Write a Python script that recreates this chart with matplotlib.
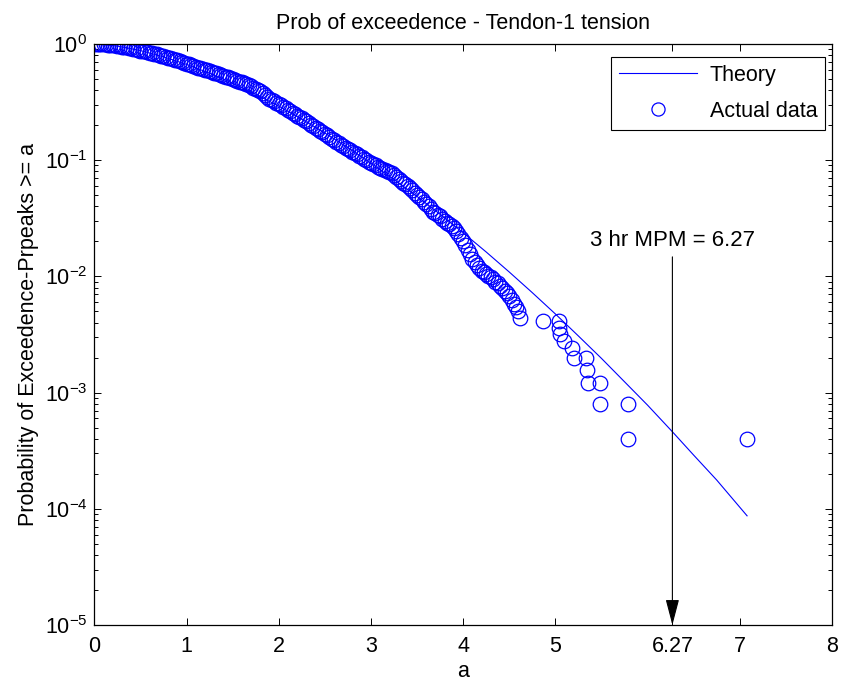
import matplotlib
matplotlib.use('Agg')
import matplotlib.pyplot as plt

plt.rcParams['font.family'] = ['Liberation Sans', 'DejaVu Sans']
plt.rcParams['mathtext.fontset'] = 'custom'
plt.rcParams['mathtext.rm'] = 'Liberation Sans'
plt.rcParams['mathtext.it'] = 'Liberation Sans:italic'

# peaks data (a, prob of exceedence)
data_a = [0.000, 0.025, 0.050, 0.075, 0.100, 0.125, 0.150, 0.175, 0.200, 0.225,
          0.250, 0.275, 0.300, 0.325, 0.350, 0.375, 0.400, 0.425, 0.450, 0.475,
          0.500, 0.525, 0.550, 0.575, 0.600, 0.625, 0.650, 0.675, 0.700, 0.725,
          0.750, 0.775, 0.800, 0.825, 0.850, 0.875, 0.900, 0.925, 0.950, 0.975,
          1.000, 1.025, 1.050, 1.075, 1.100, 1.125, 1.150, 1.175, 1.200, 1.225,
          1.250, 1.275, 1.300, 1.325, 1.350, 1.375, 1.400, 1.425, 1.450, 1.475,
          1.500, 1.525, 1.550, 1.575, 1.600, 1.625, 1.650, 1.675, 1.700, 1.725,
          1.750, 1.775, 1.800, 1.825, 1.850, 1.875, 1.900, 1.925, 1.950, 1.975,
          2.000, 2.025, 2.050, 2.075, 2.100, 2.125, 2.150, 2.175, 2.200, 2.225,
          2.250, 2.275, 2.300, 2.325, 2.350, 2.375, 2.400, 2.425, 2.450, 2.475,
          2.500, 2.525, 2.550, 2.575, 2.600, 2.625, 2.650, 2.675, 2.700, 2.725,
          2.750, 2.775, 2.800, 2.825, 2.850, 2.875, 2.900, 2.925, 2.950, 2.975,
          3.000, 3.025, 3.050, 3.075, 3.100, 3.125, 3.150, 3.175, 3.200, 3.225,
          3.250, 3.275, 3.300, 3.325, 3.350, 3.375, 3.400, 3.425, 3.450, 3.475,
          3.500, 3.525, 3.550, 3.575, 3.600, 3.625, 3.650, 3.675, 3.700, 3.725,
          3.750, 3.775, 3.800, 3.825, 3.850, 3.875, 3.900, 3.925, 3.950, 3.975,
          4.000, 4.025, 4.050, 4.075, 4.100, 4.125, 4.150, 4.175, 4.200, 4.225,
          4.250, 4.275, 4.300, 4.325, 4.350, 4.375, 4.400, 4.425, 4.450, 4.475,
          4.500, 4.525, 4.550, 4.575, 4.600, 4.620,
          4.87, 5.04, 5.04, 5.05, 5.09, 5.18, 5.20, 5.33, 5.34, 5.36,
          5.49, 5.49, 5.79, 5.79, 7.08]
data_p = [1.000, 1.000, 1.000, 0.998, 0.995, 0.990, 0.985, 0.980, 0.975, 0.968,
          0.960, 0.952, 0.945, 0.938, 0.930, 0.922, 0.915, 0.905, 0.895, 0.885,
          0.875, 0.868, 0.860, 0.850, 0.840, 0.830, 0.820, 0.810, 0.800, 0.790,
          0.780, 0.770, 0.760, 0.750, 0.740, 0.730, 0.720, 0.710, 0.700, 0.688,
          0.675, 0.665, 0.655, 0.645, 0.635, 0.625, 0.615, 0.608, 0.600, 0.590,
          0.580, 0.572, 0.565, 0.556, 0.548, 0.539, 0.530, 0.522, 0.515, 0.508,
          0.500, 0.490, 0.480, 0.472, 0.465, 0.456, 0.448, 0.439, 0.430, 0.421,
          0.412, 0.404, 0.395, 0.378, 0.360, 0.347, 0.335, 0.327, 0.320, 0.312,
          0.305, 0.295, 0.285, 0.278, 0.270, 0.262, 0.255, 0.247, 0.240, 0.234,
          0.228, 0.221, 0.215, 0.207, 0.200, 0.195, 0.190, 0.184, 0.178, 0.173,
          0.168, 0.163, 0.158, 0.153, 0.149, 0.144, 0.140, 0.136, 0.132, 0.128,
          0.125, 0.121, 0.118, 0.115, 0.112, 0.109, 0.106, 0.103, 0.100, 0.097,
          0.095, 0.092, 0.090, 0.088, 0.086, 0.084, 0.082, 0.080, 0.079, 0.077,
          0.075, 0.072, 0.069, 0.066, 0.064, 0.062, 0.060, 0.057, 0.055, 0.052,
          0.050, 0.048, 0.046, 0.044, 0.042, 0.040, 0.038, 0.036, 0.035, 0.034,
          0.033, 0.031, 0.030, 0.029, 0.028, 0.027, 0.026, 0.0245, 0.023, 0.0215,
          0.020, 0.0185, 0.017, 0.0155, 0.014, 0.0132, 0.0125, 0.0118, 0.0112, 0.0108,
          0.0105, 0.0101, 0.0098, 0.0094, 0.0090, 0.0087, 0.0083, 0.0079, 0.0075, 0.0072,
          0.0068, 0.0063, 0.0058, 0.0054, 0.0050, 0.0044,
          0.0041, 0.0041, 0.0036, 0.0032, 0.0028, 0.0024, 0.0020, 0.0020, 0.00156, 0.0012,
          0.0012, 0.0008, 0.0008, 0.0004, 0.0004]

# theory curve
theory_a = [0.0, 0.25, 0.5, 0.75, 1.0, 1.25, 1.5, 1.75, 2.0, 2.25, 2.5, 2.75,
            3.0, 3.25, 3.5, 3.75, 4.0, 4.25, 4.5, 4.75, 5.0, 5.25, 5.5, 5.75,
            6.0, 6.27, 6.5, 6.75, 7.08]
theory_p = [1.0, 0.957, 0.875, 0.773, 0.666, 0.559, 0.459, 0.369, 0.291, 0.225,
            0.171, 0.128, 0.094, 0.068, 0.0487, 0.0342, 0.0237, 0.0162, 0.0109,
            0.00724, 0.00475, 0.00307, 0.00197, 0.00124, 0.00078, 0.00046,
            0.00029, 0.000177, 0.000087]

mpm = 6.27
xtick_vals = [0, 1, 2, 3, 4, 5, mpm, 7, 8]
xtick_labels = ['0', '1', '2', '3', '4', '5', '6.27', '7', '8']

fs = 15.5

fig = plt.figure(figsize=(8.42, 6.87), dpi=100)
ax = fig.add_axes([0.112, 0.0902, 0.876, 0.846])

ax.semilogy(theory_a, theory_p, '-', color='b', lw=0.8, label='Theory')
ax.semilogy(data_a, data_p, 'o', mfc='none', mec='b', ms=10.5, mew=0.9,
            label='Actual data')

ax.set_xlim(0, 8)
ax.set_ylim(1e-5, 1)
ax.set_xticks(xtick_vals)
ax.set_xticklabels(xtick_labels)
ax.tick_params(which='both', direction='in', top=True, right=True, labelsize=fs)
ax.tick_params(axis='x', pad=8)
ax.tick_params(axis='y', pad=5)
ax.tick_params(which='major', length=5, width=0.7)
ax.tick_params(which='minor', length=3, width=0.7)
for s in ax.spines.values():
    s.set_linewidth(0.9)

ax.set_title('Prob of exceedence - Tendon-1 tension', fontsize=fs, pad=11)
ax.set_xlabel('a', fontsize=fs, labelpad=3)
ax.set_ylabel('Probability of Exceedence-Prpeaks >= a', fontsize=fs, labelpad=4)

# MPM arrow
ax.annotate('', xy=(mpm, 1e-5), xytext=(mpm, 0.0147),
            arrowprops=dict(arrowstyle='-|>,head_length=1.6,head_width=0.42',
                            color='k', lw=0.8, shrinkA=0, shrinkB=0))
ax.text(mpm, 0.0205, '3 hr MPM = 6.27', ha='center', va='center', fontsize=16)

leg = ax.legend(loc='upper right', bbox_to_anchor=(0.991, 0.978),
                fancybox=False, edgecolor='k', framealpha=1, fontsize=fs,
                borderaxespad=0, handlelength=3.6, handletextpad=0.6,
                labelspacing=0.7, borderpad=0.37, markerscale=0.9)
leg.get_frame().set_linewidth(0.8)

fig.savefig('out.png', dpi=100)
